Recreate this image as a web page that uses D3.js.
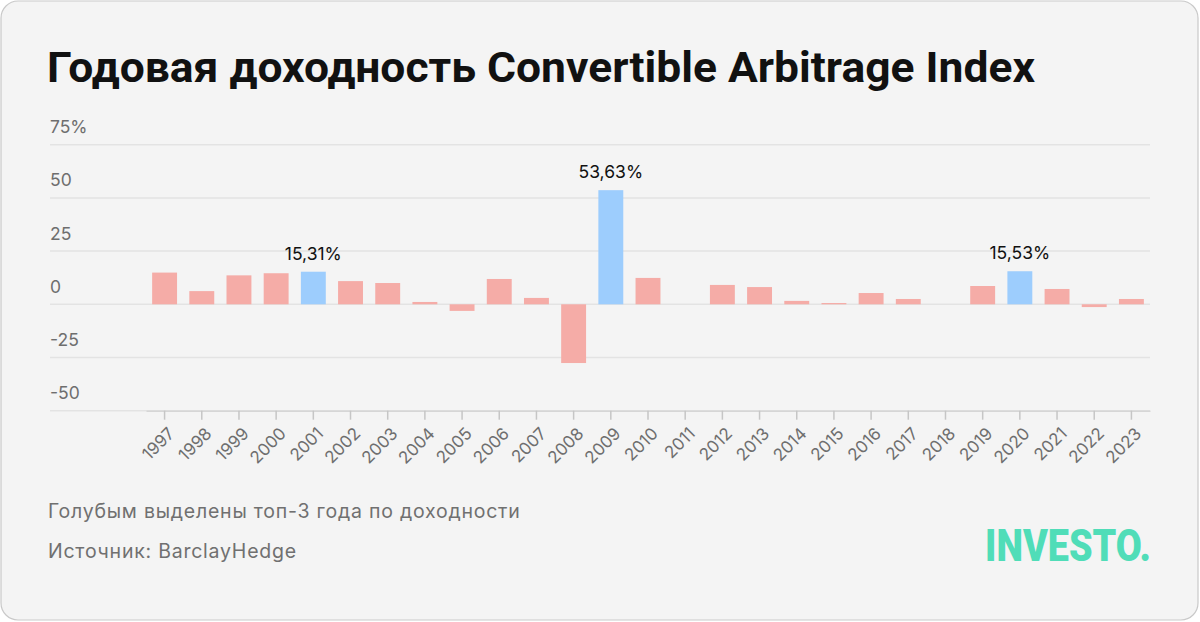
<!DOCTYPE html>
<html><head><meta charset="utf-8">
<script src="https://cdn.jsdelivr.net/npm/d3@7/dist/d3.min.js"></script>
<style>
html,body{margin:0;padding:0;background:#fff;}
svg{display:block;}
</style></head>
<body><svg id="chart" width="1200" height="622"></svg>
<script>
const years = ["1997","1998","1999","2000","2001","2002","2003","2004","2005","2006","2007","2008","2009","2010","2011","2012","2013","2014","2015","2016","2017","2018","2019","2020","2021","2022","2023"];
const returns = [14.9,6.2,13.6,14.6,15.31,10.9,10.0,1.1,-3.1,11.9,3.0,-27.6,53.63,12.4,0,9.1,8.1,1.6,0.6,5.3,2.5,0,8.6,15.53,7.2,-1.3,2.5];
const highlighted = ["2001","2009","2020"];
const labelTexts = {"2001":"15,31%","2009":"53,63%","2020":"15,53%"};
const yTicks = [-50,-25,0,25,50,75];
const yTickLabels = ["-50","-25","0","25","50","75%"];
const title = "Годовая доходность Convertible Arbitrage Index";
const note = "Голубым выделены топ-3 года по доходности";
const source = "Источник: BarclayHedge";

const svg = d3.select("#chart");
svg.append("rect").attr("x",1).attr("y",1).attr("width",1197).attr("height",619)
  .attr("rx",17).attr("fill","#f4f4f4").attr("stroke","#c9c9c9").attr("stroke-width",1.2);

function fitSpacing(sel, target){
  const w = sel.node().getComputedTextLength();
  const n = sel.text().length;
  sel.attr("letter-spacing", ((target - w)/(n-1)).toFixed(2));
}

const t = svg.append("text").attr("x",47).attr("y",82).text(title)
  .attr("font-family","'Liberation Sans Narrow', 'Roboto', sans-serif").attr("font-weight",700)
  .attr("font-size",43).attr("fill","#111");
const tw = t.node().getComputedTextLength();
if (Math.abs(tw-988)>4) t.attr("textLength",988).attr("lengthAdjust","spacingAndGlyphs");

const y = d3.scaleLinear().domain([-50,75]).range([410.7,144.7]);
const x = d3.scaleBand().domain(years).range([146,1150]).paddingInner(0.33).paddingOuter(0.165);

// grid
const g = svg.append("g");
g.selectAll("line.grid").data(yTicks).join("line")
  .attr("x1",50).attr("x2",1150).attr("y1",d=>y(d)).attr("y2",d=>y(d))
  .attr("stroke","#e3e3e3").attr("stroke-width",1.5);
g.selectAll("text.yl").data(yTicks).join("text")
  .attr("x",50).attr("y",d=>y(d)-11.5).text((d,i)=>yTickLabels[i])
  .attr("font-family","Inter, sans-serif").attr("font-size",17.5).attr("fill","#6e6e6e");

// x axis
const xAxis = d3.axisBottom(x).tickSize(9).tickSizeOuter(0);
const ax = svg.append("g").attr("transform",`translate(0,${y(-50)})`).call(xAxis);
ax.select(".domain").attr("stroke","#d6d6d6").attr("stroke-width",1.5);
ax.selectAll(".tick line").attr("stroke","#c6c6c6").attr("stroke-width",1.5);
ax.selectAll(".tick text")
  .attr("font-family","Inter, sans-serif").attr("font-size",17).attr("fill","#6e6e6e")
  .attr("text-anchor","end").attr("dy",null).attr("y",null)
  .attr("transform","translate(11,24) rotate(-45)");

// bars
svg.append("g").selectAll("rect").data(years).join("rect")
  .attr("x",d=>x(d)).attr("width",x.bandwidth())
  .attr("y",(d,i)=>y(Math.max(0,returns[i])))
  .attr("height",(d,i)=>Math.abs(y(returns[i])-y(0)))
  .attr("fill",d=>highlighted.includes(d)?"#9dcdfd":"#f5aca7");

// labels
svg.append("g").selectAll("text").data(highlighted).join("text")
  .attr("x",d=>x(d)+x.bandwidth()/2)
  .attr("y",d=>y(returns[years.indexOf(d)])-12)
  .attr("text-anchor","middle").text(d=>labelTexts[d])
  .attr("font-family","Inter, sans-serif").attr("font-size",17.5).attr("fill","#111");

// footer
const n1 = svg.append("text").attr("x",48).attr("y",518).text(note)
  .attr("font-family","Inter, sans-serif").attr("font-size",19.5).attr("fill","#707070");
fitSpacing(n1, 472);
const n2 = svg.append("text").attr("x",48).attr("y",558).text(source)
  .attr("font-family","Inter, sans-serif").attr("font-size",19.5).attr("fill","#707070");
fitSpacing(n2, 248);

// logo
const logo = svg.append("text").attr("x",985).attr("y",561).text("INVESTO.")
  .attr("font-family","Roboto, sans-serif").attr("font-weight",900)
  .attr("font-size",44).attr("fill","#50ddb8");
logo.attr("textLength",166).attr("lengthAdjust","spacingAndGlyphs");
</script></body></html>
